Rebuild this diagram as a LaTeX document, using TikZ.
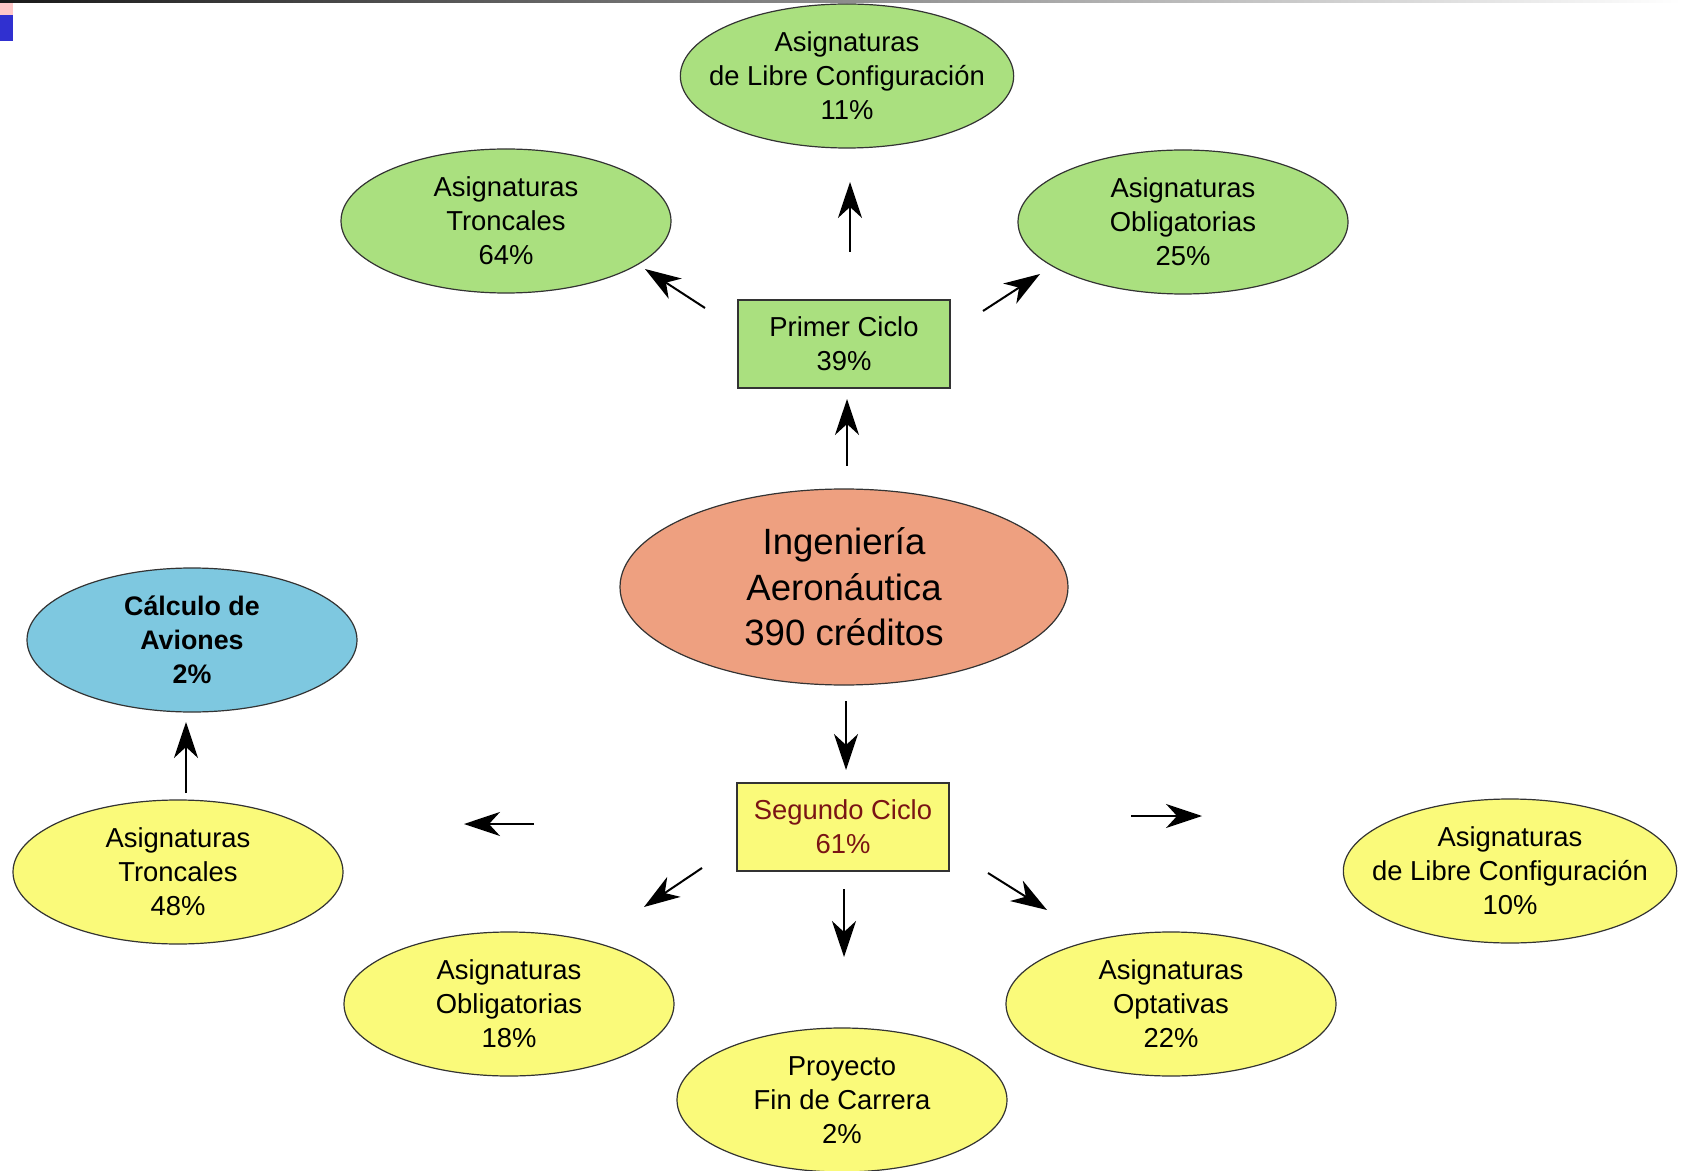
\documentclass[tikz,border=0pt]{standalone}
\usepackage{fontspec}
\setmainfont{Liberation Sans}
\usetikzlibrary{shapes.geometric,arrows.meta}
\definecolor{verde}{HTML}{AAE07F}
\definecolor{amarillo}{HTML}{FAFA7A}
\definecolor{salmon}{HTML}{EEA080}
\definecolor{celeste}{HTML}{7EC8E0}
\definecolor{granate}{HTML}{7A1414}
\definecolor{rosa}{HTML}{FFC8C8}
\definecolor{azul}{HTML}{3030D0}

\begin{document}
\begin{tikzpicture}[x=0.5pt,y=-0.5pt,
	oval/.style={ellipse,draw=black!80,line width=0.6pt,minimum width=165pt,minimum height=72pt,inner sep=0pt,inner xsep=-10pt,align=center,font=\fontsize{13.7}{17}\selectfont},
	caja/.style={rectangle,draw=black!80,line width=0.6pt,minimum width=106pt,minimum height=44pt,inner sep=0pt,align=center,font=\fontsize{13.7}{17}\selectfont},
	flecha/.style={line width=1pt,-{Stealth[length=18pt,width=12pt,inset=5.5pt]}}]
		\useasboundingbox (0,0) rectangle (1681,1171);
		
		% barra superior
		\shade[left color=black!90,right color=white] (0,0) rectangle (1681,3);
		\fill[rosa] (0,3) rectangle (13,15);
		\fill[azul] (0,15) rectangle (13,41);
		
		% nodos
		\node[oval,fill=salmon,minimum width=224pt,minimum height=98pt,font=\fontsize{18.3}{22.8}\selectfont] (ing) at (844,587) {Ingeniería\\Aeronáutica\\390 créditos};
		
		\node[caja,fill=verde] (prim) at (844,344) {Primer Ciclo\\39\%};
		\node[oval,fill=verde] (lc1) at (847,76) {Asignaturas\\de Libre Configuración\\11\%};
		\node[oval,fill=verde] (tr1) at (506,221) {Asignaturas\\Troncales\\64\%};
		\node[oval,fill=verde] (ob1) at (1183,222) {Asignaturas\\Obligatorias\\25\%};
		
		\node[caja,fill=amarillo,text=granate] (seg) at (843,827) {Segundo Ciclo\\61\%};
		\node[oval,fill=amarillo] (tr2) at (178,872) {Asignaturas\\Troncales\\48\%};
		\node[oval,fill=celeste,font=\fontsize{13.4}{17}\selectfont\bfseries] (calc) at (192,640) {Cálculo de\\Aviones\\2\%};
		\node[oval,fill=amarillo] (ob2) at (509,1004) {Asignaturas\\Obligatorias\\18\%};
		\node[oval,fill=amarillo] (pfc) at (842,1100) {Proyecto\\Fin de Carrera\\2\%};
		\node[oval,fill=amarillo] (opt) at (1171,1004) {Asignaturas\\Optativas\\22\%};
		\node[oval,fill=amarillo] (lc2) at (1510,871) {Asignaturas\\de Libre Configuración\\10\%};
		
		% extremos de las flechas
		\coordinate (ingP) at (847,466);
		\coordinate (primI) at (847,399);
		\coordinate (primLC) at (850,252);
		\coordinate (lcP) at (850,182);
		\coordinate (primTR) at (705,308);
		\coordinate (trP) at (645,269);
		\coordinate (primOB) at (983,311);
		\coordinate (obP) at (1040,274);
		
		\coordinate (ingS) at (846,701);
		\coordinate (segI) at (846,770);
		\coordinate (segTR) at (534,824);
		\coordinate (trS) at (464,824);
		\coordinate (segLC) at (1131,816);
		\coordinate (lcS) at (1202,816);
		\coordinate (segOB) at (702,868);
		\coordinate (obS) at (644,907);
		\coordinate (segPF) at (844,889);
		\coordinate (pfS) at (844,957);
		\coordinate (segOP) at (988,873);
		\coordinate (opS) at (1047,910);
		\coordinate (trC) at (186,793);
		\coordinate (cTR) at (186,722);
		
		% flechas
		\draw[flecha] (ingP) -- (primI);
		\draw[flecha] (primLC) -- (lcP);
		\draw[flecha] (primTR) -- (trP);
		\draw[flecha] (primOB) -- (obP);
		\draw[flecha] (ingS) -- (segI);
		\draw[flecha] (segTR) -- (trS);
		\draw[flecha] (segLC) -- (lcS);
		\draw[flecha] (segOB) -- (obS);
		\draw[flecha] (segPF) -- (pfS);
		\draw[flecha] (segOP) -- (opS);
		\draw[flecha] (trC) -- (cTR);
		
	\end{tikzpicture}
\end{document}
